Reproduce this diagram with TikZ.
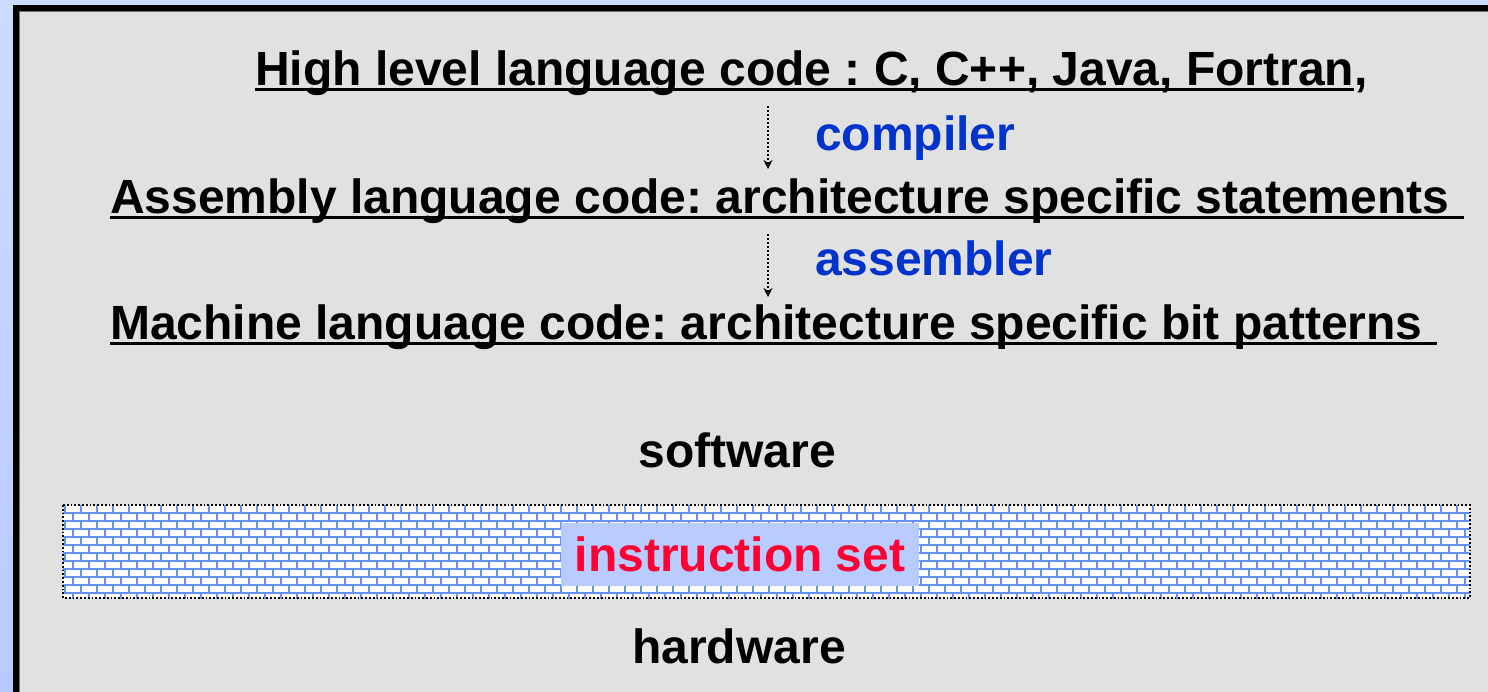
\documentclass[tikz,border=0pt]{standalone}
\usepackage{fontspec}
\setmainfont{Liberation Sans}
\usetikzlibrary{arrows.meta}
\frenchspacing
\definecolor{slidebg}{HTML}{E1E1E1}
\definecolor{edgeblue}{HTML}{CCDCFF}
\definecolor{edgeblue2}{HTML}{B8CAFF}
\definecolor{kwblue}{HTML}{0033CC}
\definecolor{isred}{HTML}{FF0033}
\definecolor{brickblue}{HTML}{6690FF}
\definecolor{tagblue}{HTML}{B8CCFF}
\begin{document}
\begin{tikzpicture}[x=1pt,y=-1pt,>={Stealth[length=9pt,width=9pt]},
    every node/.style={inner sep=0pt,font=\fontsize{48}{56}\selectfont\bfseries},
    code/.style={anchor=base west},
    tool/.style={anchor=base west,text=kwblue},
    layer/.style={anchor=base},
    uline/.style={line width=2.5pt},
    flow/.style={->,dash pattern=on 2pt off 2pt,line width=2pt},
    brick/.style={brickblue,line width=2pt}]
\useasboundingbox (0,0) rectangle (1488,691);
\shade[top color=edgeblue,bottom color=edgeblue2] (0,0) rectangle (1488,691);
\fill[slidebg] (16,8) rectangle (1495,698);
\draw[line width=6pt] (16,698)--(16,8)--(1495,8);
\draw[black!55,line width=1pt] (19.5,698)--(19.5,11.5)--(1495,11.5);
\node[code] (hl) at (255,85) {High level language code : C, C++, Java, Fortran\rlap{,}};
\draw[uline] ([yshift=-4.5pt]hl.base west)--([yshift=-4.5pt]hl.base east);
\node[tool] (comp) at (815,150) {compiler};
\node[code] (asm) at (110,213) {Assembly language code: architecture specific statements\kern14pt};
\draw[uline] ([yshift=-4.5pt]asm.base west)--([yshift=-4.5pt]asm.base east);
\node[tool] (assm) at (815,275) {assembler};
\node[code] (mach) at (110,339) {Machine language code: architecture specific bit patterns\kern14pt};
\draw[uline] ([yshift=-4.5pt]mach.base west)--([yshift=-4.5pt]mach.base east);
\coordinate (ax) at (768,0);
\draw[flow] ([yshift=-21pt]hl.base -| ax)--([yshift=44pt]asm.base -| ax);
\draw[flow] ([yshift=-21pt]asm.base -| ax)--([yshift=42pt]mach.base -| ax);
\node[layer] (sw) at (737,467) {software};
\fill[white] (63,505) rectangle (1470,598);
\begin{scope}
\clip (63,505) rectangle (1470,598);
\draw[brick] \foreach \r in {0,...,11}{(63,513+8*\r)--++(1407,0)};
\draw[brick] \foreach \r in {0,...,11}{\foreach \c in {0,...,88}{({64.5+8*mod(\r,2)+16*\c},{505+8*\r})--++(0,8)}};
\end{scope}
\draw[dotted,line width=1.8pt] (63,505) rectangle (1470,598);
\node[layer,fill=tagblue,text=isred,text height=48pt,text depth=15pt,minimum width=358pt] (iset) at (740,571) {instruction set};
\node[layer] (hw) at (739,663) {hardware};
\end{tikzpicture}
\end{document}
